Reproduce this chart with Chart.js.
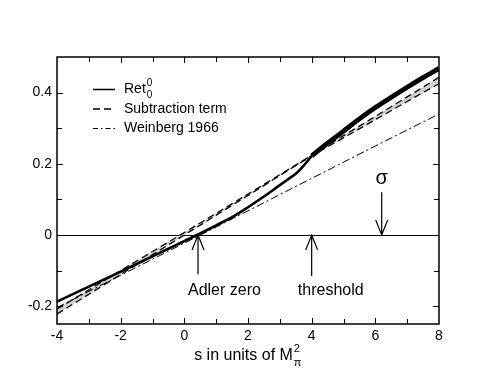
<!DOCTYPE html>
<html>
<head>
<meta charset="utf-8">
<script src="https://cdn.jsdelivr.net/npm/chart.js@4.4.0/dist/chart.umd.min.js"></script>
<style>
  html, body { margin: 0; padding: 0; background: #fff; }
  #wrap { width: 494px; height: 382px; }
</style>
</head>
<body>
<div id="wrap"><canvas id="c" width="494" height="382"></canvas></div>
<script>
// Ret_0^0 below and above threshold (s in units of M_pi^2)
const sRetLow = [-4, -3, -2, -1, 0, 0.4, 1, 1.5, 2, 2.5, 3, 3.25, 3.5, 3.75, 3.9, 4];
const retLow = [-0.187, -0.145, -0.103, -0.060, -0.017, 0, 0.027, 0.050, 0.078, 0.108, 0.140, 0.156, 0.172, 0.195, 0.211, 0.222];
const sRetHigh = [4, 4.5, 5, 5.5, 6, 6.5, 7, 7.5, 8];
const retHigh = [0.222, 0.258, 0.292, 0.326, 0.358, 0.387, 0.415, 0.442, 0.468];

// subtraction term band (upper / lower edge)
const sSub = [-4, -2, 0, 2, 4, 5, 6, 7, 8];
const subUpper = [-0.208, -0.100, 0.007, 0.115, 0.224, 0.279, 0.333, 0.388, 0.443];
const subLower = [-0.222, -0.111, 0, 0.111, 0.222, 0.273, 0.324, 0.375, 0.425];

// Weinberg 1966
const sWein = [-4, -2, 0, 2, 4, 6, 8];
const weinberg = [-0.204, -0.113, -0.023, 0.068, 0.159, 0.250, 0.340];

const yTicks = [-0.2, 0, 0.2, 0.4];
const xMinor = [-3, -2, -1, 0, 1, 2, 3, 4, 5, 6, 7];
const yMinor = [-0.2, -0.1, 0, 0.1, 0.2, 0.3, 0.4];

// arrows: s position
const adlerZero = 0.43;
const threshold = 4;
const sigmaPos = 6.2;

const FONT = '"Liberation Sans", Arial, Helvetica, sans-serif';
const pts = (xs, ys) => xs.map((s, i) => ({ x: s, y: ys[i] }));

function arrow(ctx, x, yFrom, yTo) {
  const dir = yTo > yFrom ? 1 : -1;
  ctx.beginPath();
  ctx.moveTo(x, yFrom);
  ctx.lineTo(x, yTo);
  ctx.moveTo(x - 6, yTo - dir * 15);
  ctx.lineTo(x, yTo);
  ctx.lineTo(x + 6, yTo - dir * 15);
  ctx.stroke();
}

const decor = {
  id: 'decor',
  beforeDatasetsDraw(chart) {
    const { ctx, chartArea: a, scales: { y } } = chart;
    ctx.save();
    ctx.strokeStyle = '#000';
    ctx.lineWidth = 1;
    const y0 = Math.round(y.getPixelForValue(0)) + 0.5;
    ctx.beginPath();
    ctx.moveTo(a.left, y0);
    ctx.lineTo(a.right, y0);
    ctx.stroke();
    ctx.restore();
  },
  afterDraw(chart) {
    const { ctx, chartArea: a, scales: { x, y } } = chart;
    ctx.save();
    ctx.strokeStyle = '#000';
    ctx.fillStyle = '#000';

    // ticks on all four sides, pointing inward
    ctx.lineWidth = 1;
    ctx.beginPath();
    xMinor.forEach(v => {
      const px = Math.round(x.getPixelForValue(v)) + 0.5;
      const len = v % 2 === 0 ? 6 : 5;
      ctx.moveTo(px, a.bottom); ctx.lineTo(px, a.bottom - len);
      ctx.moveTo(px, a.top); ctx.lineTo(px, a.top + len);
    });
    yMinor.forEach(v => {
      const py = Math.round(y.getPixelForValue(v)) + 0.5;
      const len = yTicks.includes(v) ? 6 : 5;
      ctx.moveTo(a.left, py); ctx.lineTo(a.left + len, py);
      ctx.moveTo(a.right, py); ctx.lineTo(a.right - len, py);
    });
    ctx.stroke();

    // frame
    ctx.lineWidth = 1.5;
    ctx.strokeRect(a.left, a.top, a.right - a.left, a.bottom - a.top);

    // arrows
    ctx.lineWidth = 1.2;
    const yz = y.getPixelForValue(0);
    arrow(ctx, x.getPixelForValue(adlerZero), y.getPixelForValue(-0.11), yz);
    arrow(ctx, x.getPixelForValue(threshold), y.getPixelForValue(-0.115), yz);
    arrow(ctx, x.getPixelForValue(sigmaPos), y.getPixelForValue(0.12), yz);

    ctx.textBaseline = 'middle';
    ctx.textAlign = 'center';
    ctx.font = '16px ' + FONT;
    ctx.fillText('Adler zero', x.getPixelForValue(1.26), y.getPixelForValue(-0.155));
    ctx.fillText('threshold', x.getPixelForValue(4.6), y.getPixelForValue(-0.155));
    ctx.font = '20px ' + FONT;
    ctx.fillText('σ', x.getPixelForValue(sigmaPos), y.getPixelForValue(0.158));

    // legend
    const lx0 = 93, lx1 = 115, tx = 124;
    const rows = [89.5, 109, 128.5];
    ctx.lineWidth = 1.5;
    ctx.setLineDash([]);
    ctx.beginPath(); ctx.moveTo(lx0, rows[0]); ctx.lineTo(lx1, rows[0]); ctx.stroke();
    ctx.setLineDash([7, 4]);
    ctx.beginPath(); ctx.moveTo(lx0, rows[1]); ctx.lineTo(lx1, rows[1]); ctx.stroke();
    ctx.lineWidth = 1;
    ctx.setLineDash([5, 3, 1.5, 3]);
    ctx.beginPath(); ctx.moveTo(lx0, rows[2]); ctx.lineTo(lx1, rows[2]); ctx.stroke();
    ctx.setLineDash([]);

    ctx.textAlign = 'left';
    ctx.font = '14px ' + FONT;
    ctx.fillText('Ret', tx, rows[0]);
    const rw = ctx.measureText('Ret').width;
    ctx.font = '10px ' + FONT;
    ctx.fillText('0', tx + rw + 1, rows[0] - 6);
    ctx.fillText('0', tx + rw + 1, rows[0] + 6);
    ctx.font = '14px ' + FONT;
    ctx.fillText('Subtraction term', tx, rows[1]);
    ctx.fillText('Weinberg 1966', tx, rows[2]);

    // x axis title
    ctx.font = '16px ' + FONT;
    const title = 's in units of M';
    const tw = ctx.measureText(title).width;
    const cx = (a.left + a.right) / 2;
    const start = cx - (tw + 9) / 2;
    const ty = 356;
    ctx.fillText(title, start, ty);
    ctx.font = '11px ' + FONT;
    ctx.fillText('2', start + tw + 1, ty - 7);
    ctx.fillText('π', start + tw + 1, ty + 7);
    ctx.restore();
  }
};

new Chart(document.getElementById('c'), {
  type: 'line',
  data: {
    datasets: [
      { data: pts(sRetLow, retLow), borderColor: '#000', borderWidth: 2.6, order: 0 },
      { data: pts(sRetHigh, retHigh), borderColor: '#000', borderWidth: 4.8, order: 0 },
      { data: pts(sSub, subUpper), borderColor: '#000', borderWidth: 1.3, borderDash: [7, 4], order: 2 },
      { data: pts(sSub, subLower), borderColor: '#000', borderWidth: 1.3, borderDash: [7, 4], order: 2,
        fill: '-1', backgroundColor: '#cfcfcf' },
      { data: pts(sWein, weinberg), borderColor: '#000', borderWidth: 1, borderDash: [8, 3, 2, 3], order: 1 }
    ]
  },
  options: {
    responsive: false,
    animation: false,
    devicePixelRatio: 1,
    layout: { padding: { left: 0, right: 55, top: 57, bottom: 0 } },
    elements: { point: { radius: 0 }, line: { cubicInterpolationMode: 'monotone' } },
    plugins: { legend: { display: false }, tooltip: { enabled: false } },
    scales: {
      x: {
        type: 'linear', min: -4, max: 8,
        grid: { display: false, drawTicks: false },
        border: { display: false },
        ticks: { stepSize: 2, padding: 4, color: '#000', font: { family: FONT, size: 14 } },
        afterFit: s => { s.height = 58; }
      },
      y: {
        type: 'linear', min: -0.25, max: 0.5,
        grid: { display: false, drawTicks: false },
        border: { display: false },
        afterBuildTicks: s => { s.ticks = yTicks.map(v => ({ value: v })); },
        ticks: { padding: 5, color: '#000', font: { family: FONT, size: 14 },
          callback: v => (v === 0 ? '0' : String(v)) },
        afterFit: s => { s.width = 57; }
      }
    }
  },
  plugins: [decor]
});
</script>
</body>
</html>
